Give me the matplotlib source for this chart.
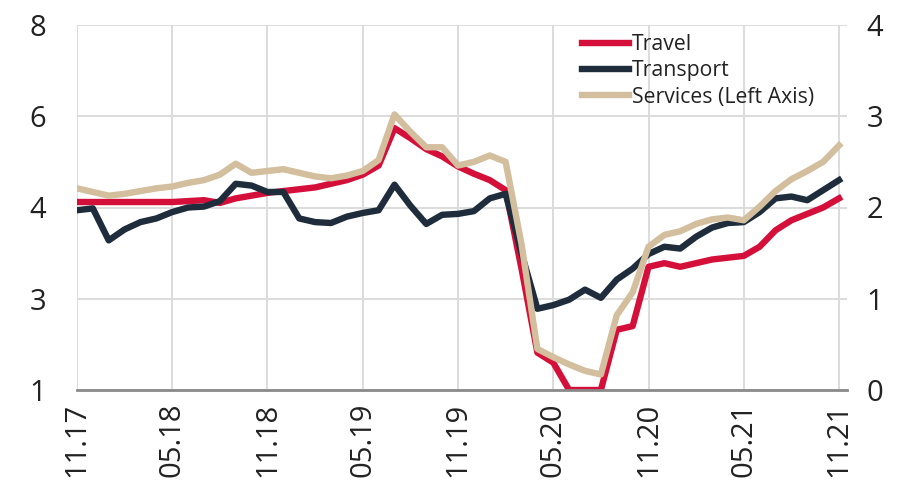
import matplotlib
matplotlib.use("Agg")
import matplotlib.pyplot as plt
import numpy as np

plt.rcParams["font.family"] = ["Open Sans", "DejaVu Sans"]

# monthly, 11.17 .. 11.21 (all on the right-axis scale)
travel = [2.06, 2.06, 2.06, 2.06, 2.06, 2.06, 2.06, 2.07, 2.08, 2.05,
          2.10, 2.13, 2.16, 2.18, 2.20, 2.22, 2.26, 2.30, 2.36, 2.46,
          2.87, 2.76, 2.64, 2.56, 2.45, 2.37, 2.30, 2.19, 1.33, 0.41,
          0.30, 0.00, 0.00, 0.00, 0.66, 0.70, 1.35, 1.39, 1.35, 1.39,
          1.43, 1.45, 1.47, 1.57, 1.75, 1.86, 1.93, 2.00, 2.10]
transport = [1.97, 1.99, 1.64, 1.76, 1.84, 1.88, 1.95, 2.00, 2.01, 2.07,
             2.26, 2.24, 2.17, 2.17, 1.88, 1.84, 1.83, 1.90, 1.94, 1.97,
             2.25, 2.02, 1.82, 1.92, 1.93, 1.96, 2.10, 2.15, 1.50, 0.89,
             0.93, 0.99, 1.10, 1.01, 1.21, 1.33, 1.49, 1.57, 1.55, 1.68,
             1.78, 1.83, 1.84, 1.95, 2.10, 2.12, 2.08, 2.19, 2.30]
services = [2.21, 2.17, 2.13, 2.15, 2.18, 2.21, 2.23, 2.27, 2.30, 2.36,
            2.48, 2.38, 2.40, 2.42, 2.38, 2.34, 2.32, 2.35, 2.40, 2.52,
            3.02, 2.83, 2.66, 2.66, 2.46, 2.50, 2.57, 2.50, 1.60, 0.45,
            0.36, 0.28, 0.21, 0.17, 0.82, 1.07, 1.57, 1.70, 1.74, 1.82,
            1.87, 1.89, 1.86, 2.01, 2.18, 2.31, 2.40, 2.50, 2.68]

x_labels = ["11.17", "05.18", "11.18", "05.19", "11.19",
            "05.20", "11.20", "05.21", "11.21"]
left_labels = ["1", "3", "4", "6", "8"]
right_ticks = [0, 1, 2, 3, 4]

RED = "#D4103A"
NAVY = "#1E2C3C"
TAN = "#D3BE9E"

fig = plt.figure(figsize=(9.12, 5.0), dpi=100)
ax = fig.add_axes([0.0844, 0.22, 0.8443, 0.73])

months = np.arange(len(travel))
ax.plot(months, travel, color=RED, lw=4.6, label="Travel", solid_joinstyle="round")
ax.plot(months, transport, color=NAVY, lw=4.6, label="Transport", solid_joinstyle="round")
ax.plot(months, services, color=TAN, lw=4.6, label="Services (Left Axis)", solid_joinstyle="round")

ax.set_xlim(0, 48.5)
ax.set_ylim(0, 4)
ax.set_xticks(np.arange(0, 49, 6))
ax.set_xticklabels(x_labels, rotation=90, fontsize=21, color="#222222")
ax.set_yticks(right_ticks)
ax.set_yticklabels(left_labels, fontsize=21, color="#222222")
ax.tick_params(axis="both", length=0)
ax.tick_params(axis="y", pad=22)
ax.tick_params(axis="x", pad=9)
ax.grid(True, color="#dcdcdc", lw=1.4)
ax.set_axisbelow(True)
for s in ["top", "right", "left"]:
    ax.spines[s].set_visible(False)
ax.spines["bottom"].set_color("#8a8a8a")
ax.spines["bottom"].set_linewidth(2)

ax2 = ax.twinx()
ax2.set_ylim(0, 4)
ax2.set_yticks(right_ticks)
ax2.set_yticklabels([str(t) for t in right_ticks], fontsize=21, color="#222222")
ax2.tick_params(axis="y", length=0, pad=14)
for s in ax2.spines.values():
    s.set_visible(False)

leg = ax.legend(loc="upper left", bbox_to_anchor=(0.656, 0.975), frameon=False,
                fontsize=15.3, handlelength=2.2, handletextpad=0.15,
                labelspacing=0.25, borderpad=0, borderaxespad=0)
for t in leg.get_texts():
    t.set_color("#222222")

fig.savefig("out.png", dpi=100)
